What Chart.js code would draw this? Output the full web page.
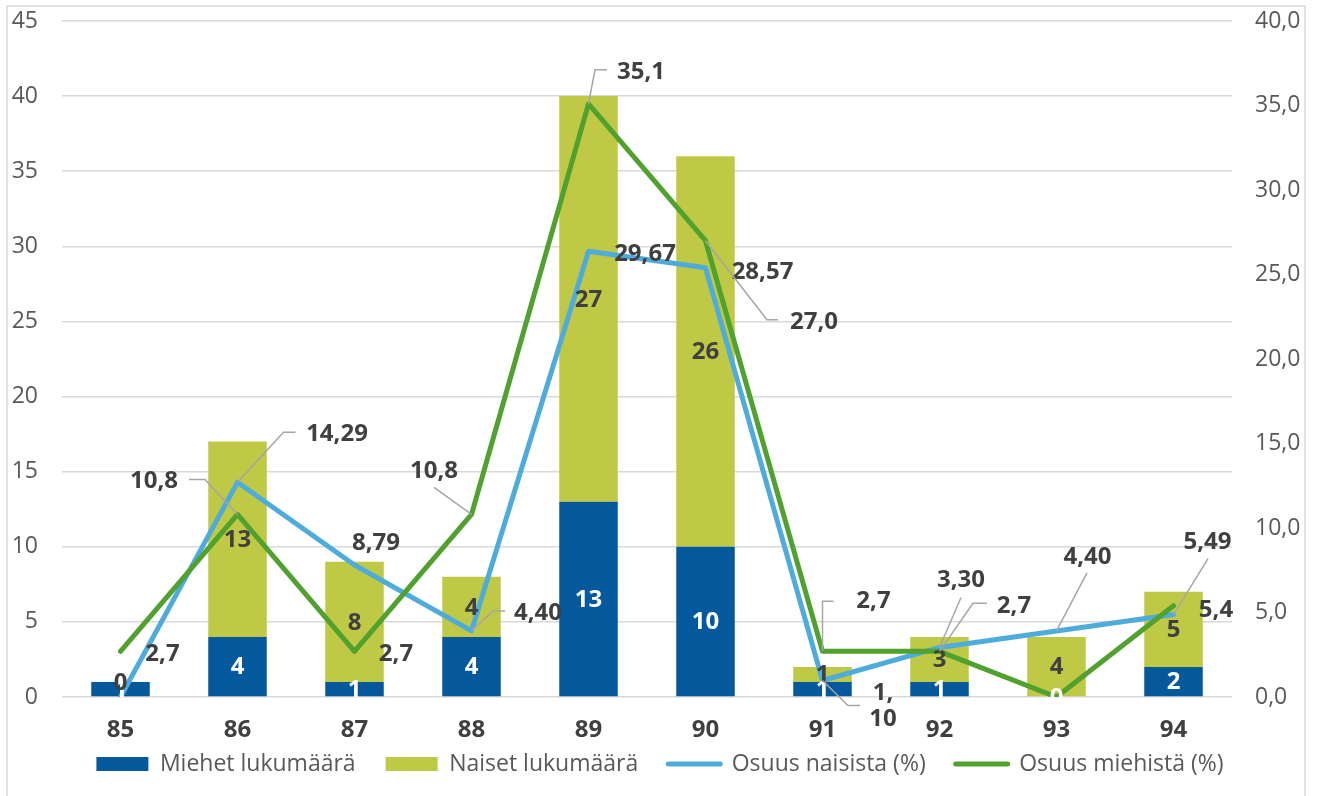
<!DOCTYPE html>
<html>
<head>
<meta charset="utf-8">
<script src="https://cdn.jsdelivr.net/npm/chart.js@4.4.1/dist/chart.umd.min.js"></script>
<style>
  html, body { margin: 0; padding: 0; background: #ffffff; overflow: hidden; }
  #wrap { position: absolute; left: 0; top: 0; width: 1320px; height: 796px; }
</style>
</head>
<body>
<div id="wrap"><canvas id="chart" width="1320" height="796"></canvas></div>
<script>
// Ikäryhmät (vuosi) ja luvut
const categories = ['85', '86', '87', '88', '89', '90', '91', '92', '93', '94'];
const miehetLukumaara = [1, 4, 1, 4, 13, 10, 1, 1, 0, 2];
const naisetLukumaara = [0, 13, 8, 4, 27, 26, 1, 3, 4, 5];
const osuusNaisista = [0, 14.29, 8.79, 4.40, 29.67, 28.57, 1.10, 3.30, 4.40, 5.49];
const osuusMiehista = [2.7, 10.8, 2.7, 10.8, 35.1, 27.0, 2.7, 2.7, 0, 5.4];
const leftAxis = { min: 0, max: 45, step: 5 };
const rightAxis = { min: 0, max: 40, step: 5 };

const FONT = '"Open Sans", "Noto Sans", sans-serif';
const LABEL_COLOR = '#404040';
const TICK_COLOR = '#595959';

// Arvotarrojen sijoittelu viivan pisteen suhteen (px) ja ohjainviivojen taitepisteet
const naisetLabelPlace = [
  null,
  { dx: 99.5, dy: -49, lead: [[46, -50], [58, -50]] },
  { dx: 21.5, dy: -23 },
  { dx: 66.5, dy: -19, lead: [[21.5, -20], [33.5, -20]] },
  { dx: 56.5, dy: 2 },
  { dx: 57, dy: 3 },
  { dx: 60.5, dy: 26, wrap: true, lead: [[25.5, 25], [37.5, 25]] },
  { dx: 21.5, dy: -68, lead: [[21.5, -50]] },
  { dx: 31, dy: -75, lead: [[30.5, -58]] },
  { dx: 34, dy: -73, lead: [[34.5, -56]] }
];
const miehetLabelPlace = [
  { dx: 42, dy: 2 },
  { dx: -83.5, dy: -34, lead: [[-32.5, -35], [-48.5, -35]] },
  { dx: 41.5, dy: 2 },
  { dx: -37.5, dy: -44, lead: [[-37.5, -27]] },
  { dx: 52.5, dy: -33, lead: [[6.5, -34], [18.5, -34]] },
  { dx: 108.5, dy: 80, lead: [[61.5, 79], [72.5, 79]] },
  { dx: 51, dy: -51, lead: [[0, -50], [11, -50]] },
  { dx: 74.5, dy: -46, lead: [[33.5, -48], [47.5, -48]] },
  null,
  { dx: 42.5, dy: 3 }
];

const fmt = (v, d) => v.toFixed(d).replace('.', ',');

// Tarrat pylväiden ja viivojen päälle
const valueLabels = {
  id: 'valueLabels',
  afterDatasetsDraw(chart) {
    const ctx = chart.ctx;
    ctx.save();
    ctx.font = 'bold 24px ' + FONT;
    ctx.textAlign = 'center';
    ctx.textBaseline = 'middle';

    // pylväät: arvo osan keskelle
    [0, 1].forEach(di => {
      const meta = chart.getDatasetMeta(di);
      const values = chart.data.datasets[di].data;
      meta.data.forEach((bar, i) => {
        const yMid = (bar.y + bar.base) / 2;
        ctx.fillStyle = di === 0 ? '#ffffff' : LABEL_COLOR;
        ctx.fillText(String(values[i]), bar.x, yMid + 1);
      });
    });

    // viivat
    const lineSets = [
      { di: 2, place: naisetLabelPlace, decimals: 2 },
      { di: 3, place: miehetLabelPlace, decimals: 1 }
    ];
    lineSets.forEach(({ di, place, decimals }) => {
      const meta = chart.getDatasetMeta(di);
      const values = chart.data.datasets[di].data;
      meta.data.forEach((pt, i) => {
        const p = place[i];
        if (!p) return;
        if (p.lead) {
          ctx.beginPath();
          ctx.strokeStyle = '#A6A6A6';
          ctx.lineWidth = 1.5;
          ctx.moveTo(pt.x, pt.y);
          p.lead.forEach(([lx, ly]) => ctx.lineTo(pt.x + lx, pt.y + ly));
          ctx.stroke();
        }
        ctx.fillStyle = LABEL_COLOR;
        const txt = fmt(values[i], decimals);
        if (p.wrap) {
          const parts = txt.split(',');
          ctx.fillText(parts[0] + ',', pt.x + p.dx, pt.y + p.dy - 13);
          ctx.fillText(parts[1], pt.x + p.dx, pt.y + p.dy + 13);
        } else {
          ctx.fillText(txt, pt.x + p.dx, pt.y + p.dy + 1);
        }
      });
    });
    ctx.restore();
  }
};

// Kaavion kehys; x-akselin tekstit saavat ulottua selitteen viereen
const frame = {
  id: 'frame',
  afterLayout(chart) {
    chart.scales.x.bottom = chart.height;
  },
  beforeDraw(chart) {
    const ctx = chart.ctx;
    ctx.save();
    ctx.fillStyle = '#ffffff';
    ctx.fillRect(0, 0, chart.width, chart.height);
    ctx.strokeStyle = '#D9D9D9';
    ctx.lineWidth = 1.5;
    ctx.strokeRect(7, 6, 1298, 900);
    ctx.restore();
  }
};

// Pystyakseleiden leveys ja yläreunan tila
const fitVertical = width => s => {
  s.width = width;
  s.paddingTop = 21;
  s.paddingBottom = 0;
};

new Chart(document.getElementById('chart'), {
  data: {
    labels: categories,
    datasets: [
      {
        type: 'bar', label: 'Miehet lukumäärä', data: miehetLukumaara,
        backgroundColor: '#03599B', yAxisID: 'y', stack: 'lkm', order: 2,
        categoryPercentage: 1, barPercentage: 0.5
      },
      {
        type: 'bar', label: 'Naiset lukumäärä', data: naisetLukumaara,
        backgroundColor: '#BFC946', yAxisID: 'y', stack: 'lkm', order: 3,
        categoryPercentage: 1, barPercentage: 0.5
      },
      {
        type: 'line', label: 'Osuus naisista (%)', data: osuusNaisista,
        borderColor: '#4EACDD', backgroundColor: '#4EACDD', borderWidth: 5,
        pointRadius: 0, tension: 0, yAxisID: 'y', stack: 'naiset', order: 1,
        borderJoinStyle: 'round', borderCapStyle: 'round'
      },
      {
        type: 'line', label: 'Osuus miehistä (%)', data: osuusMiehista,
        borderColor: '#50A12D', backgroundColor: '#50A12D', borderWidth: 5,
        pointRadius: 0, tension: 0, yAxisID: 'y1', order: 0,
        borderJoinStyle: 'round', borderCapStyle: 'round'
      }
    ]
  },
  options: {
    responsive: false,
    animation: false,
    events: [],
    layout: { padding: { left: 0, right: 0, top: 0, bottom: 10.5 } },
    scales: {
      x: {
        stacked: true,
        grid: { display: false, drawTicks: false },
        border: { display: false },
        ticks: { color: LABEL_COLOR, font: { family: FONT, size: 24, weight: 'bold' }, padding: 19 },
        afterFit: s => { s.height = 25.5; }
      },
      y: {
        position: 'left', stacked: true,
        min: leftAxis.min, max: leftAxis.max,
        grid: { color: '#D9D9D9', lineWidth: 1.5, drawTicks: false },
        border: { display: false },
        ticks: { stepSize: leftAxis.step, color: TICK_COLOR, font: { family: FONT, size: 23 }, padding: 24 },
        afterFit: fitVertical(62)
      },
      y1: {
        position: 'right',
        min: rightAxis.min, max: rightAxis.max,
        grid: { display: false, drawTicks: false },
        border: { display: false },
        ticks: {
          stepSize: rightAxis.step, color: TICK_COLOR, font: { family: FONT, size: 23 }, padding: 23,
          callback: v => fmt(v, 1)
        },
        afterFit: fitVertical(88)
      }
    },
    plugins: {
      tooltip: { enabled: false },
      legend: {
        position: 'bottom',
        labels: {
          usePointStyle: true, pointStyleWidth: 52, boxHeight: 14,
          padding: 30, color: TICK_COLOR, font: { family: FONT, size: 23 },
          sort: (a, b) => a.datasetIndex - b.datasetIndex,
          generateLabels(chart) {
            const items = Chart.defaults.plugins.legend.labels.generateLabels(chart);
            return items.map(it => {
              const ds = chart.data.datasets[it.datasetIndex];
              if (ds.type === 'line') {
                it.pointStyle = 'line';
                it.strokeStyle = ds.borderColor;
                it.lineWidth = 5;
                it.lineCap = 'round';
              } else {
                it.pointStyle = 'rect';
                it.fillStyle = ds.backgroundColor;
                it.lineWidth = 0;
              }
              return it;
            });
          }
        }
      }
    }
  },
  plugins: [frame, valueLabels]
});
</script>
</body>
</html>
